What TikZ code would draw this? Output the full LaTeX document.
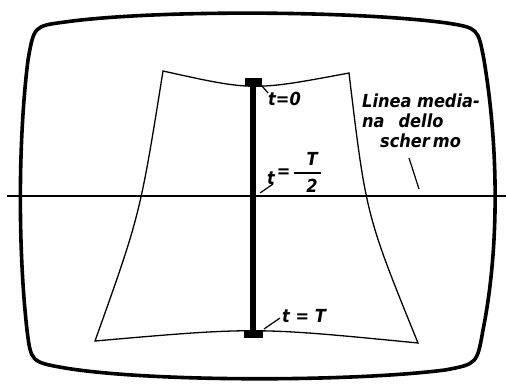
\documentclass[tikz,border=0pt]{standalone}
\usepackage{amsmath}
\usepackage{fontspec}
\newfontfamily\tvfont{DejaVu Sans Condensed Bold Oblique}
\usepackage{tikz}
\usetikzlibrary{positioning,calc}

\begin{document}
\begin{tikzpicture}[x=1pt,y=-1pt,
  lbl/.style={font=\tvfont\fontsize{18}{20}\selectfont,inner sep=0pt,align=left},
  schermo/.style={line width=3.6pt,line join=round},
  contorno/.style={line width=1.3pt,line join=miter},
  mediana/.style={line width=1.2pt},
  richiamo/.style={line width=1.2pt}]
\useasboundingbox (0,0) rectangle (506,383);
% contorno del cinescopio
\draw[schermo] (65,22) .. controls (150,10) and (350,10) .. (447,23)
  .. controls (478,28) .. (484,60)
  .. controls (499,150) and (499,250) .. (483,330)
  .. controls (477,364) .. (445,370)
  .. controls (350,382) and (150,382) .. (65,368)
  .. controls (31,362) .. (27,330)
  .. controls (18,250) and (18,140) .. (28,60)
  .. controls (34,26) .. cycle;
% quadro distorto
\draw[contorno] (163,71) .. controls (253,91) .. (349,73)
  .. controls (366,215) .. (418,343)
  .. controls (255,327) .. (95,341)
  .. controls (140,215) .. cycle;
% linea mediana
\coordinate (mL) at (7,196);
\coordinate (mR) at (506,196);
\draw[mediana] (mL) -- (mR);
% traccia verticale
\coordinate (top) at (253,82);
\coordinate (bot) at (253,334);
\draw[line width=6.5pt] (top) -- (bot);
\fill ([shift={(-8,-4)}]top) rectangle ([shift={(9,4)}]top);
\fill ([shift={(-9,-3)}]bot) rectangle ([shift={(10,4)}]bot);
% etichette
\node[lbl,anchor=base west] (t0) at (268,105) {t=0};
\node[lbl,anchor=base west] (tmezzi) at (267,177)
  {\raisebox{-7pt}{t}\hspace{2pt}=\hspace{2pt}$\genfrac{}{}{1.8pt}{0}{\makebox[27pt][r]{T\hspace{3pt}}}{\makebox[27pt][r]{2\hspace{3pt}}}$};
\node[lbl,anchor=base west] (tT) at (282,322) {t = T};
\node[lbl,anchor=base west] (testo) at (362,147)
  {Linea media-\\na\hspace{14pt}dello\\\hspace*{18pt}scher\,mo};
\coordinate (c0) at (262,86);
\coordinate (c1) at (260,193);
\coordinate (c2) at (264,329);
\coordinate (c3) at (419,189);
\draw[richiamo] (c0) -- ([shift={(0,-12)}]t0.base west);
\draw[richiamo] (c1) -- ([shift={(6,7)}]tmezzi.base west);
\draw[richiamo] (c2) -- ([shift={(-2,-4)}]tT.base west);
\draw[richiamo] (c3) -- ([shift={(47,11)}]testo.base west);
\end{tikzpicture}
\end{document}
